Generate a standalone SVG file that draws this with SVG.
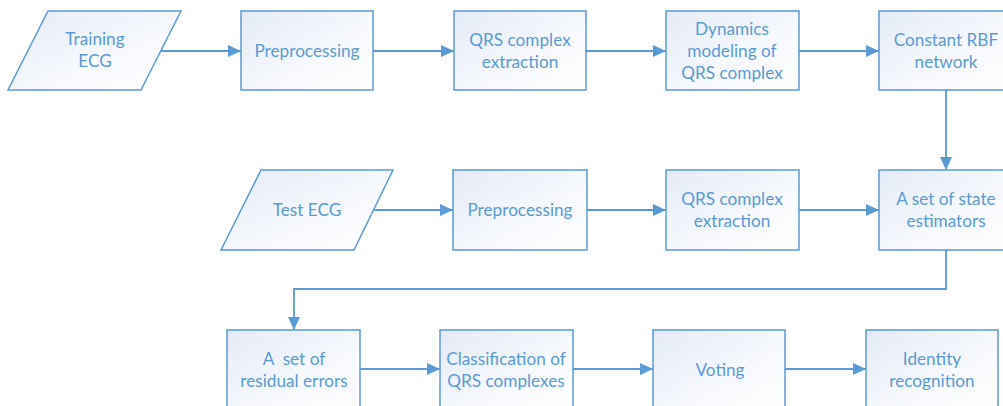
<svg xmlns="http://www.w3.org/2000/svg" width="1003" height="406" viewBox="0 0 1003 406">
<defs>
<linearGradient id="g" x1="0" y1="0" x2="1" y2="1">
<stop offset="0" stop-color="#E4EBF6"/>
<stop offset="0.6" stop-color="#F7F9FD"/>
<stop offset="1" stop-color="#FFFFFF"/>
</linearGradient>
<marker id="ah" markerUnits="userSpaceOnUse" markerWidth="14" markerHeight="12" refX="13" refY="6" orient="auto">
<path d="M0,0 L13,6 L0,12 Z" fill="#5B9BD5"/>
</marker>
</defs>
<style>
.n{fill:url(#g);stroke:#5B9BD5;stroke-width:1.5}
.t{font-family:Lato,"Open Sans","Liberation Sans",sans-serif;font-size:17.2px;fill:#5B9BD5;text-anchor:middle}
.c{fill:none;stroke:#5B9BD5;stroke-width:1.8}
</style>
<rect width="1003" height="406" fill="#FFFFFF"/>
<g id="training-ecg"><polygon class="n" points="48,11 181,11 141,90 8,90"/><text class="t" x="95" y="45">Training</text><text class="t" x="95" y="67">ECG</text></g>
<g id="preprocessing1"><rect class="n" x="241" y="11" width="132" height="79"/><text class="t" x="307" y="57">Preprocessing</text></g>
<g id="qrs-extraction1"><rect class="n" x="454" y="11" width="132" height="79"/><text class="t" x="520" y="46">QRS complex</text><text class="t" x="520" y="68">extraction</text></g>
<g id="dynamics"><rect class="n" x="666" y="11" width="133" height="79"/><text class="t" x="732" y="35">Dynamics</text><text class="t" x="732" y="57">modeling of</text><text class="t" x="732" y="79">QRS complex</text></g>
<g id="rbf"><rect class="n" x="879" y="11" width="133" height="79"/><text class="t" x="946" y="46">Constant RBF</text><text class="t" x="946" y="68">network</text></g>
<g id="test-ecg"><polygon class="n" points="261,170 393,170 354,250 221,250"/><text class="t" x="307" y="216">Test ECG</text></g>
<g id="preprocessing2"><rect class="n" x="453" y="170" width="134" height="80"/><text class="t" x="520" y="216">Preprocessing</text></g>
<g id="qrs-extraction2"><rect class="n" x="666" y="170" width="133" height="80"/><text class="t" x="732" y="205">QRS complex</text><text class="t" x="732" y="227">extraction</text></g>
<g id="state-estimators"><rect class="n" x="879" y="170" width="133" height="80"/><text class="t" x="946" y="205">A set of state</text><text class="t" x="946" y="227">estimators</text></g>
<g id="residual"><rect class="n" x="227" y="330" width="133" height="82"/><text class="t" x="294" y="365" xml:space="preserve">A  set of</text><text class="t" x="294" y="387">residual errors</text></g>
<g id="classification"><rect class="n" x="440" y="330" width="133" height="82"/><text class="t" x="506" y="365">Classification of</text><text class="t" x="506" y="387">QRS complexes</text></g>
<g id="voting"><rect class="n" x="653" y="330" width="132" height="82"/><text class="t" x="720" y="376">Voting</text></g>
<g id="identity"><rect class="n" x="866" y="330" width="132" height="82"/><text class="t" x="932" y="365">Identity</text><text class="t" x="932" y="387">recognition</text></g>
<g id="connectors">
<path class="c" d="M161,51 H241" marker-end="url(#ah)"/>
<path class="c" d="M373,51 H454" marker-end="url(#ah)"/>
<path class="c" d="M586,51 H666" marker-end="url(#ah)"/>
<path class="c" d="M799,51 H879" marker-end="url(#ah)"/>
<path class="c" d="M946,90 V170" marker-end="url(#ah)"/>
<path class="c" d="M374,210 H453" marker-end="url(#ah)"/>
<path class="c" d="M587,210 H666" marker-end="url(#ah)"/>
<path class="c" d="M799,210 H879" marker-end="url(#ah)"/>
<path class="c" d="M946,250 V289 H294 V330" marker-end="url(#ah)"/>
<path class="c" d="M360,369 H440" marker-end="url(#ah)"/>
<path class="c" d="M573,369 H653" marker-end="url(#ah)"/>
<path class="c" d="M785,369 H866" marker-end="url(#ah)"/>
</g>
</svg>
